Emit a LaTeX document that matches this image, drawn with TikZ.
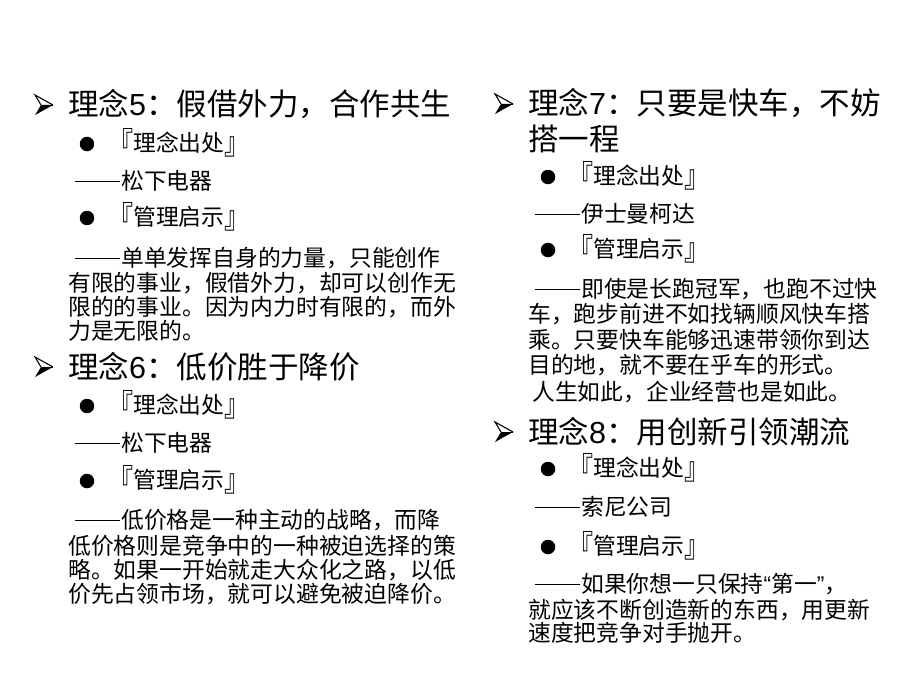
\documentclass[tikz,border=0pt]{standalone}
\usepackage{fontspec}
\usepackage{graphicx}
\setmainfont{Noto Sans CJK SC}
\newfontfamily\latinf{Liberation Sans}
\newcommand\ldash{\rule[7.2pt]{45pt}{1.6pt}\hspace{1pt}}
\newcommand\lbk{\raisebox{-2.5pt}{\scalebox{1.1}[1.35]{『}}}
\newcommand\rbk{\raisebox{-2.5pt}{\scalebox{1.1}[1.35]{』}}}
\begin{document}
\begin{tikzpicture}[x=1pt,y=-1pt,
  titletext/.style={anchor=west, inner sep=0pt, font=\fontsize{30.5}{36}\selectfont, text height=25pt, text depth=5pt},
  bodytext/.style={anchor=west, inner sep=0pt, font=\fontsize{22.8}{27}\selectfont, text height=19pt, text depth=3.8pt},
  dotmk/.style={circle, fill=black, inner sep=0pt, minimum size=14.5pt},
  arrowmk/.pic={
    \fill[black] (-3,0) -- (9,0) -- (-9,10) -- cycle;
    \draw[black, line width=1.1pt, line join=miter] (-3,0) -- (-9,-10) -- (9,0);
    \draw[black, line width=0.6pt] (-3,0) -- (9,0);
  }
]
\useasboundingbox[fill=white] (0,0) rectangle (920,690);

% ---- Left column ----
\pic (a5) at (44,105) {arrowmk};
\node[titletext] (t5) at (68,106) {理念{\latinf 5}：假借外力，合作共生};
\node[dotmk] (d5a) at (87,144) {};
\node[bodytext] (s5a) at (108,144) {\lbk 理念出处\rbk};
\node[bodytext] (r5a) at (75,182) {\ldash 松下电器};
\node[dotmk] (d5b) at (87,218) {};
\node[bodytext] (s5b) at (108,218) {\lbk 管理启示\rbk};
\node[bodytext] (p5a) at (75,259) {\ldash 单单发挥自身的力量，只能创作};
\node[bodytext] (p5b) at (68,284) {有限的事业，假借外力，却可以创作无};
\node[bodytext] (p5c) at (68,308) {限的的事业。因为内力时有限的，而外};
\node[bodytext] (p5d) at (68,332) {力是无限的。};

\pic (a6) at (44,367) {arrowmk};
\node[titletext] (t6) at (68,368) {理念{\latinf 6}：低价胜于降价};
\node[dotmk] (d6a) at (87,406) {};
\node[bodytext] (s6a) at (108,406) {\lbk 理念出处\rbk};
\node[bodytext] (r6a) at (75,444) {\ldash 松下电器};
\node[dotmk] (d6b) at (87,481) {};
\node[bodytext] (s6b) at (108,481) {\lbk 管理启示\rbk};
\node[bodytext] (p6a) at (75,521) {\ldash 低价格是一种主动的战略，而降};
\node[bodytext] (p6b) at (68,547) {低价格则是竞争中的一种被迫选择的策};
\node[bodytext] (p6c) at (68,571) {略。如果一开始就走大众化之路，以低};
\node[bodytext] (p6d) at (68,595) {价先占领市场，就可以避免被迫降价。};

% ---- Right column ----
\pic (a7) at (504,104) {arrowmk};
\node[titletext] (t7) at (528,104) {理念{\latinf 7}：只要是快车，不妨};
\node[titletext] (t7b) at (528,140) {搭一程};
\node[dotmk] (d7a) at (548,177) {};
\node[bodytext] (s7a) at (568,177) {\lbk 理念出处\rbk};
\node[bodytext] (r7a) at (535,215) {\ldash 伊士曼柯达};
\node[dotmk] (d7b) at (548,250) {};
\node[bodytext] (s7b) at (568,250) {\lbk 管理启示\rbk};
\node[bodytext] (p7a) at (535,290) {\ldash 即使是长跑冠军，也跑不过快};
\node[bodytext] (p7b) at (528,315) {车，跑步前进不如找辆顺风快车搭};
\node[bodytext] (p7c) at (528,341) {乘。只要快车能够迅速带领你到达};
\node[bodytext] (p7d) at (528,366) {目的地，就不要在乎车的形式。};
\node[bodytext] (p7e) at (532,393) {人生如此，企业经营也是如此。};

\pic (a8) at (504,432) {arrowmk};
\node[titletext] (t8) at (528,433) {理念{\latinf 8}：用创新引领潮流};
\node[dotmk] (d8a) at (548,469) {};
\node[bodytext] (s8a) at (568,469) {\lbk 理念出处\rbk};
\node[bodytext] (r8a) at (535,508) {\ldash 索尼公司};
\node[dotmk] (d8b) at (548,547) {};
\node[bodytext] (s8b) at (568,547) {\lbk 管理启示\rbk};
\node[bodytext] (p8a) at (535,585) {\ldash 如果你想一只保持{\latinf “}第一{\latinf ”}，};
\node[bodytext] (p8b) at (528,611) {就应该不断创造新的东西，用更新};
\node[bodytext] (p8c) at (528,634) {速度把竞争对手抛开。};
\end{tikzpicture}
\end{document}
